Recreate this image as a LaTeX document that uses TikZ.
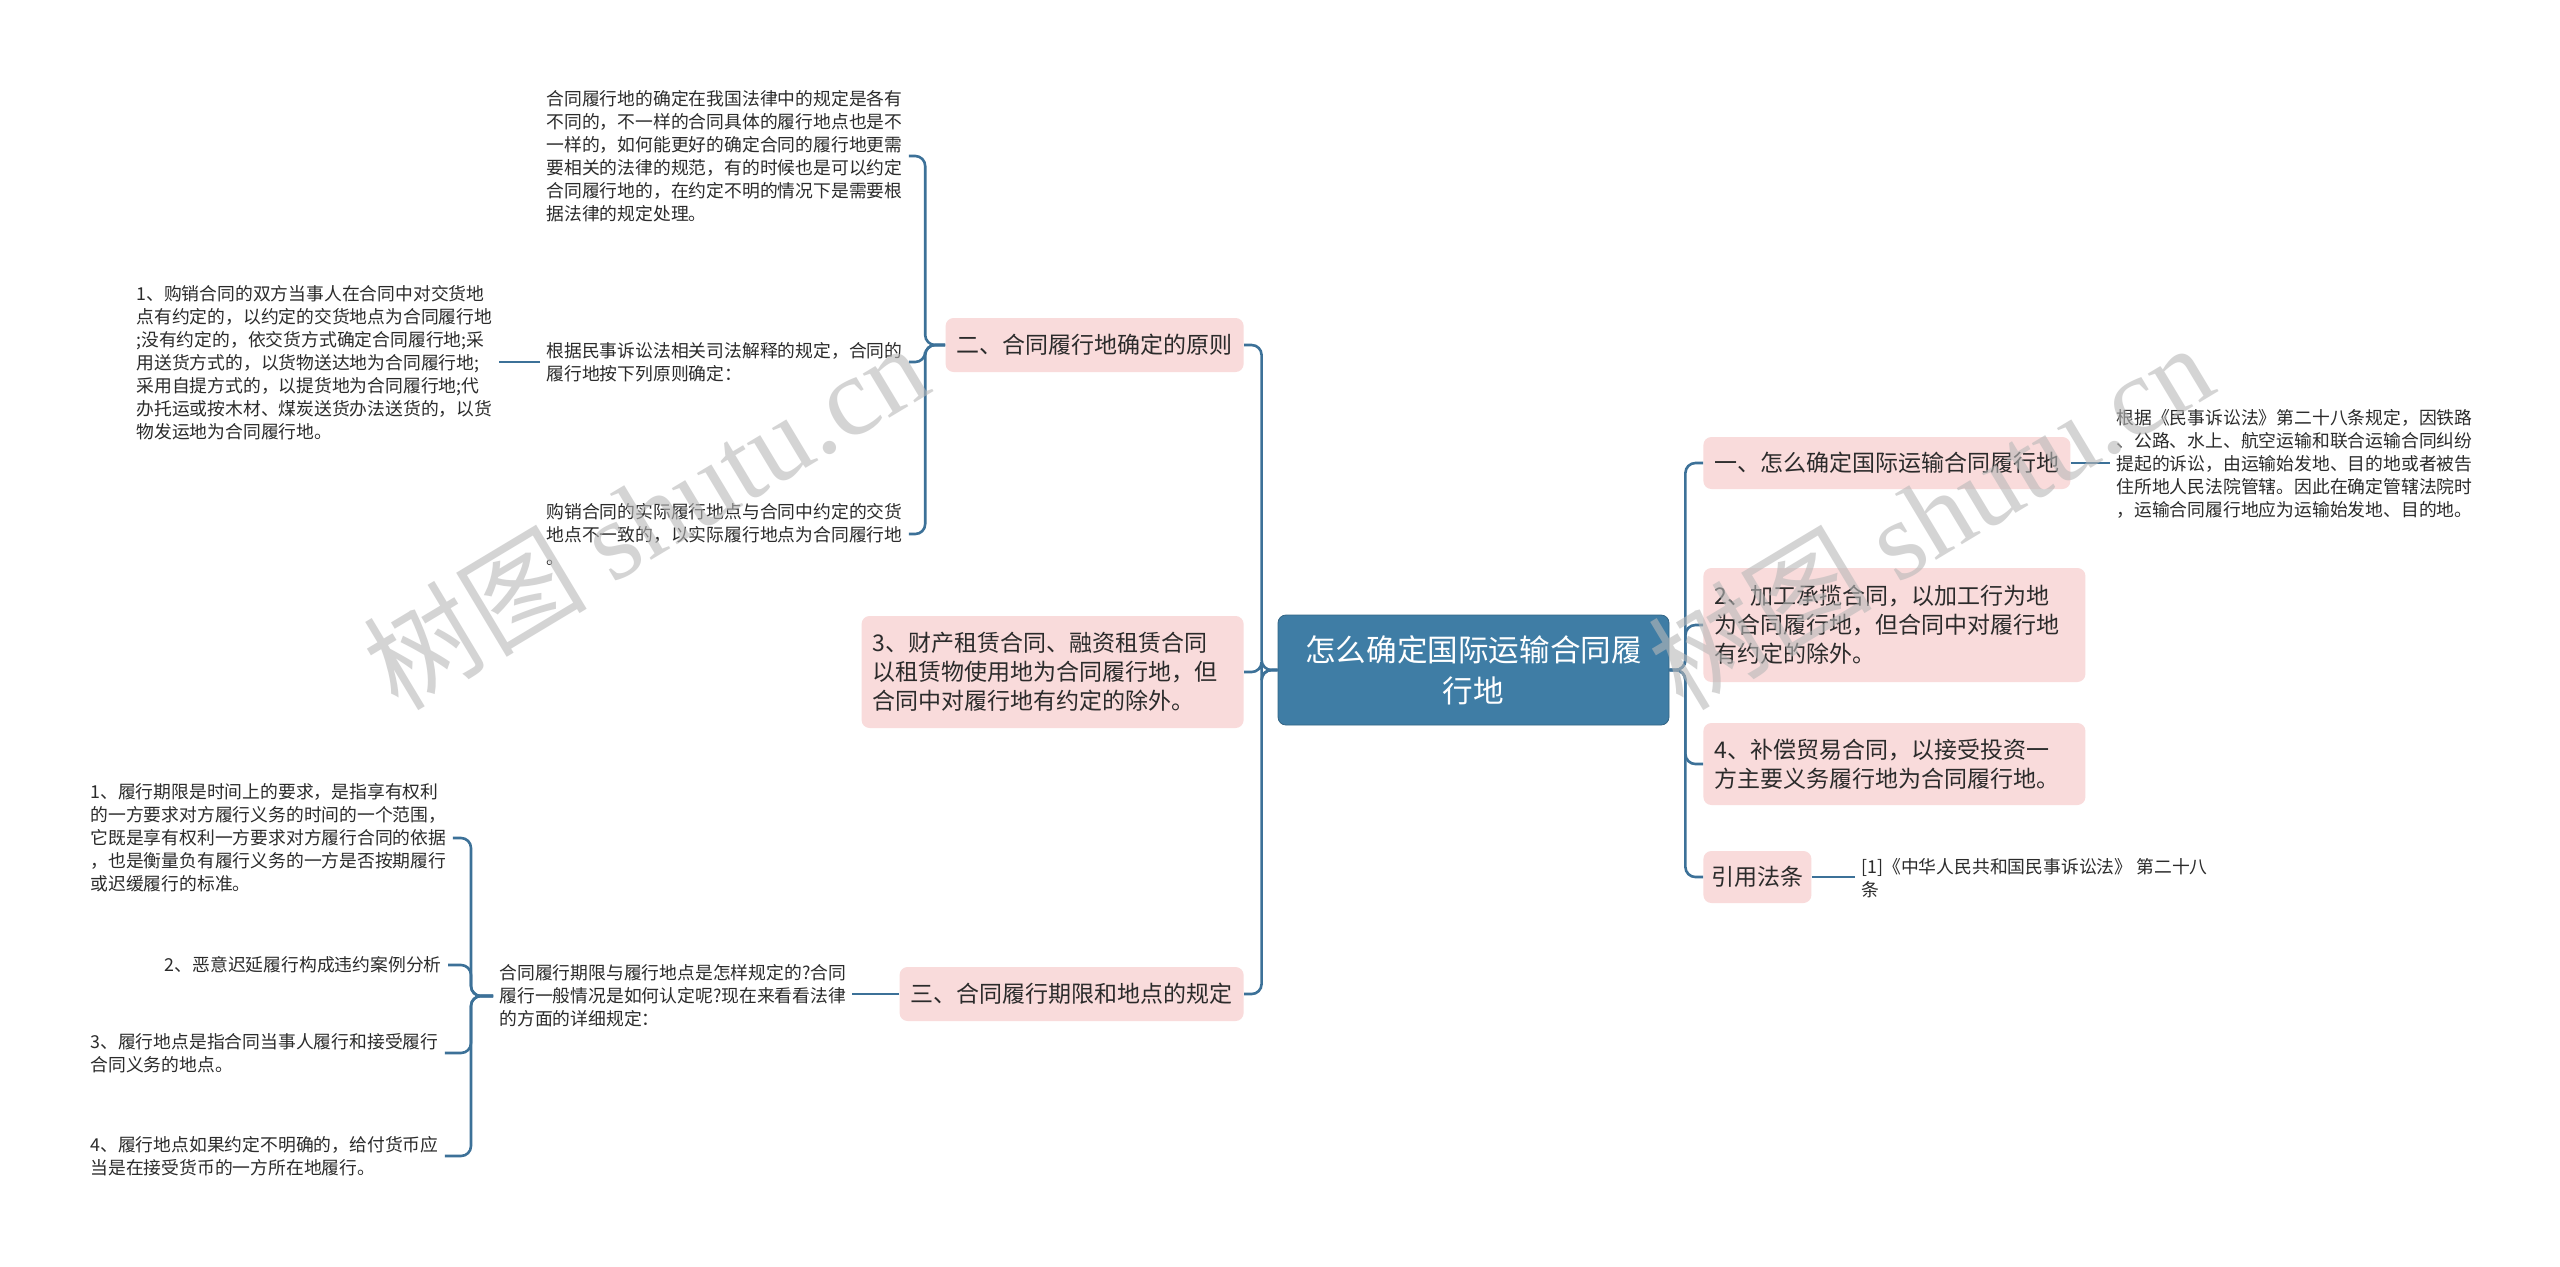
\documentclass[tikz,border=0pt]{standalone}
\usepackage{fontspec}
\setmainfont{Noto Sans CJK SC}
\newfontfamily\cjkf{Noto Sans CJK SC}
\newfontfamily\wmfont{Liberation Serif}
\definecolor{linec}{HTML}{3C7198}
\definecolor{pinkc}{HTML}{F9DBDB}
\definecolor{centc}{HTML}{3F7DA5}
\definecolor{txtc}{HTML}{2B2B2B}
\definecolor{wmc}{HTML}{B8B8B8}
\tikzset{
  conn/.style={draw=linec, line width=1.3pt, rounded corners=5pt},
  box/.style={fill=pinkc, rounded corners=4pt, text=txtc, font=\fontsize{11.5pt}{14.5pt}\selectfont, inner xsep=5.5pt, inner ysep=6pt, align=left},
  central/.style={fill=centc, draw=centc!80!black, line width=0.4pt, rounded corners=4pt, text=white, font=\fontsize{15.3pt}{20.5pt}\selectfont, align=center, minimum width=195.5pt, minimum height=55pt, inner sep=0pt},
  small/.style={text=txtc, font=\fontsize{8.9pt}{11.5pt}\selectfont, align=left, inner xsep=3pt, inner ysep=2pt},
  wm/.style={text=wmc, text opacity=0.6, font=\fontsize{56pt}{56pt}\selectfont}
}
\begin{document}
\begin{tikzpicture}[x=0.5pt,y=-0.5pt]
\fill[white] (0,0) rectangle (2560,1266);
\useasboundingbox (0,0) rectangle (2560,1266);

% central
\node[central] (c) at (1473.5,670) {怎么确定国际运输合同履\\行地};

% right boxes
\node[box, anchor=west, minimum height=26pt] (r1) at (1703,463) {一、怎么确定国际运输合同履行地};
\node[box, anchor=west, text width=180pt, minimum height=57pt] (r2) at (1703,625) {2、加工承揽合同，以加工行为地\\为合同履行地，但合同中对履行地\\有约定的除外。};
\node[box, anchor=west, text width=180pt, minimum height=41pt] (r3) at (1703,764) {4、补偿贸易合同，以接受投资一\\方主要义务履行地为合同履行地。};
\node[box, anchor=west, minimum height=26pt, inner xsep=4pt] (r4) at (1703,877) {引用法条};

% left boxes
\node[box, anchor=east, minimum height=27pt] (l1) at (1244,345) {二、合同履行地确定的原则};
\node[box, anchor=east, text width=180pt, minimum height=56pt] (l2) at (1244,672) {3、财产租赁合同、融资租赁合同\\以租赁物使用地为合同履行地，但\\合同中对履行地有约定的除外。};
\node[box, anchor=east, minimum height=27pt] (l3) at (1244,994) {三、合同履行期限和地点的规定};

% right small texts
\node[small, anchor=west] (E) at (2110,464) {根据《民事诉讼法》第二十八条规定，因铁路\\、公路、水上、航空运输和联合运输合同纠纷\\提起的诉讼，由运输始发地、目的地或者被告\\住所地人民法院管辖。因此在确定管辖法院时\\，运输合同履行地应为运输始发地、目的地。};
\node[small, anchor=west] (F) at (1855,878) {[1]《中华人民共和国民事诉讼法》 第二十八\\条};

% left small texts (subtree 二)
\node[small, anchor=west] (A) at (540,156) {合同履行地的确定在我国法律中的规定是各有\\不同的，不一样的合同具体的履行地点也是不\\一样的，如何能更好的确定合同的履行地更需\\要相关的法律的规范，有的时候也是可以约定\\合同履行地的，在约定不明的情况下是需要根\\据法律的规定处理。};
\node[small, anchor=west] (B) at (540,362) {根据民事诉讼法相关司法解释的规定，合同的\\履行地按下列原则确定：};
\node[small, anchor=west] (C) at (540,534) {购销合同的实际履行地点与合同中约定的交货\\地点不一致的，以实际履行地点为合同履行地\\。};
\node[small, anchor=west] (D) at (130,363) {1、购销合同的双方当事人在合同中对交货地\\点有约定的，以约定的交货地点为合同履行地\\;没有约定的，依交货方式确定合同履行地;采\\用送货方式的，以货物送达地为合同履行地;\\采用自提方式的，以提货地为合同履行地;代\\办托运或按木材、煤炭送货办法送货的，以货\\物发运地为合同履行地。};

% subtree 三
\node[small, anchor=west] (G) at (493,996) {合同履行期限与履行地点是怎样规定的?合同\\履行一般情况是如何认定呢?现在来看看法律\\的方面的详细规定：};
\node[small, anchor=west] (H1) at (84,838) {1、履行期限是时间上的要求，是指享有权利\\的一方要求对方履行义务的时间的一个范围，\\它既是享有权利一方要求对方履行合同的依据\\，也是衡量负有履行义务的一方是否按期履行\\或迟缓履行的标准。};
\node[small, anchor=east] (H2) at (448,965) {2、恶意迟延履行构成违约案例分析};
\node[small, anchor=west] (H3) at (84,1053) {3、履行地点是指合同当事人履行和接受履行\\合同义务的地点。};
\node[small, anchor=west] (H4) at (84,1156) {4、履行地点如果约定不明确的，给付货币应\\当是在接受货币的一方所在地履行。};

% connectors: right
\foreach \n in {r1,r2,r3,r4} {\draw[conn] (c.east) -- ++(8pt,0) |- (\n.west);}
\draw[conn] (r1.east) -- (r1.east -| E.west);
\draw[conn] (r4.east) -- (r4.east -| F.west);
% connectors: left
\foreach \n in {l1,l2,l3} {\draw[conn] (c.west) -- ++(-8pt,0) |- (\n.east);}
\foreach \n in {A,B,C} {\draw[conn] (l1.west) -- ++(-10pt,0) |- (\n.east);}
\draw[conn] (B.west) -- (B.west -| D.east);
\draw[conn] (l3.west) -- (l3.west -| G.east);
\foreach \n in {H1,H2,H3,H4} {\draw[conn] (G.west) -- ++(-11pt,0) |- (\n.east);}

% watermarks
\node[wm, rotate=31] (w1) at (645,515) {{\cjkf 树图} {\wmfont shutu.cn}};
\node[wm, rotate=31] (w2) at (1930,515) {{\cjkf 树图} {\wmfont shutu.cn}};
\end{tikzpicture}
\end{document}
